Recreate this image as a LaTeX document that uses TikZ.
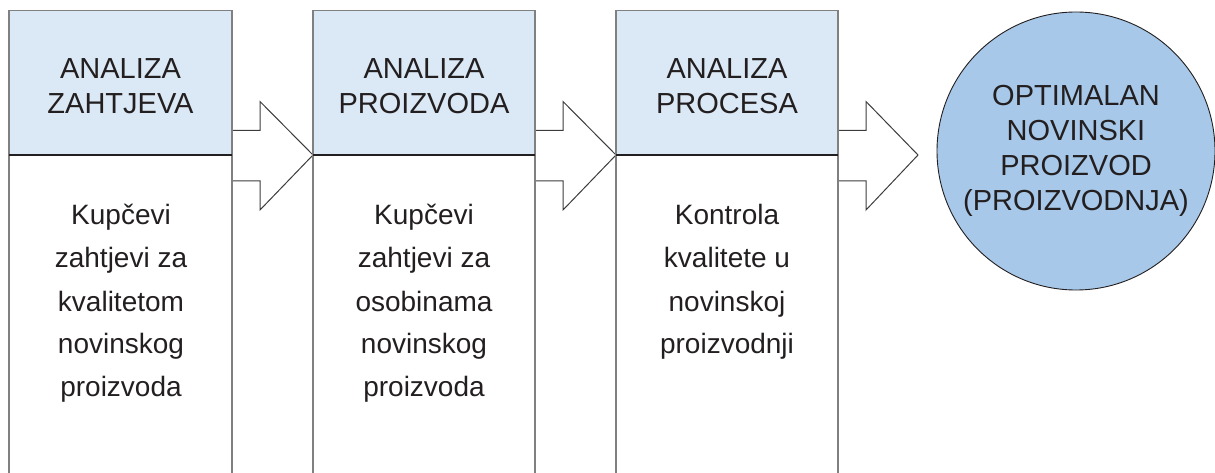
\documentclass[tikz,border=0pt]{standalone}
\usepackage{fontspec}
\setmainfont{Liberation Sans}
\usetikzlibrary{calc}
\definecolor{hdr}{RGB}{219,232,245}
\definecolor{circ}{RGB}{167,200,232}
\definecolor{edge}{RGB}{128,128,128}
\definecolor{ink}{RGB}{35,31,32}
\definecolor{arr}{RGB}{60,60,60}
\newcommand\mystack[1]{\begin{tabular}[t]{@{}c@{}}#1\end{tabular}}
\newcommand\blkarrow[2]{%
  \draw[barrow] ($(#1)+(0,-24.5)$) -- ++(28,0) -- ++(0,-29) -- (#2)
     -- ($(#1)+(28,55)$) -- ++(0,-29) -- ($(#1)+(0,26)$);}
\tikzset{
  side/.style={draw=edge, line width=1.3pt},
  sep/.style={draw=ink, line width=2pt},
  barrow/.style={draw=arr, line width=1pt, line join=miter},
  headtxt/.style={anchor=base, inner sep=0pt, text=ink, font=\fontsize{29}{35}\selectfont},
  bodytxt/.style={anchor=base, inner sep=0pt, text=ink, font=\fontsize{28}{43}\selectfont},
  goalnode/.style={circle, fill=circ, draw=ink, line width=0.9pt, inner sep=0pt,
     minimum size=278pt, text=ink, font=\fontsize{29}{35}\selectfont}
}
\begin{document}
\begin{tikzpicture}[x=1pt,y=-1pt]
\useasboundingbox (0,0) rectangle (1215,473);
\foreach \i/\l/\r in {1/9/232,2/313/535,3/616/838} {
  \coordinate (tl\i) at (\l,10.5);
  \coordinate (tr\i) at (\r,10.5);
  \coordinate (ml\i) at (\l,155);
  \coordinate (mr\i) at (\r,155);
  \coordinate (bl\i) at (\l,474);
  \coordinate (br\i) at (\r,474);
  \fill[hdr] (tl\i) rectangle (mr\i);
}
% block arrows
\coordinate (tip3) at ($(mr3)+(80,0)$);
\blkarrow{mr1}{ml2}
\blkarrow{mr2}{ml3}
\blkarrow{mr3}{tip3}
\foreach \i in {1,2,3} {
  \draw[side] (bl\i) -- (tl\i) -- (tr\i) -- (br\i);
  \draw[sep] (ml\i) -- (mr\i);
}
% texts
\node[headtxt] (t1) at (120.5,79) {\mystack{ANALIZA\\ZAHTJEVA}};
\node[headtxt] (t2) at (424,79) {\mystack{ANALIZA\\PROIZVODA}};
\node[headtxt] (t3) at (727,79) {\mystack{ANALIZA\\PROCESA}};
\node[bodytxt] (d1) at (121,225) {\mystack{Kupčevi\\zahtjevi za\\kvalitetom\\novinskog\\proizvoda}};
\node[bodytxt] (d2) at (424,225) {\mystack{Kupčevi\\zahtjevi za\\osobinama\\novinskog\\proizvoda}};
\node[bodytxt] (d3) at (727,225) {\mystack{Kontrola\\kvalitete u\\novinskoj\\proizvodnji}};
\node[goalnode] (goal) at (1076,151) {\mystack{OPTIMALAN\\NOVINSKI\\PROIZVOD\\(PROIZVODNJA)}};
\end{tikzpicture}
\end{document}
